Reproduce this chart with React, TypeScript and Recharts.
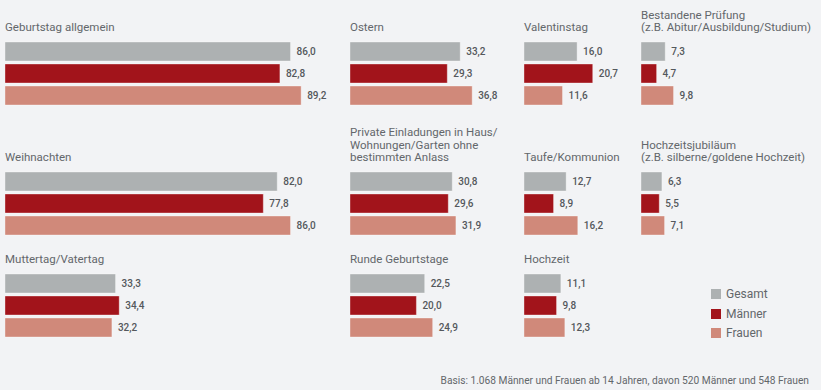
import { BarChart, Bar, Cell, XAxis, YAxis, LabelList } from 'recharts';

// Anlässe (Titelzeilen je Panel)
const categories: string[][] = [
  ['Geburtstag allgemein'],
  ['Ostern'],
  ['Valentinstag'],
  ['Bestandene Prüfung', '(z.B. Abitur/Ausbildung/Studium)'],
  ['Weihnachten'],
  ['Private Einladungen in Haus/', 'Wohnungen/Garten ohne', 'bestimmten Anlass'],
  ['Taufe/Kommunion'],
  ['Hochzeitsjubiläum', '(z.B. silberne/goldene Hochzeit)'],
  ['Muttertag/Vatertag'],
  ['Runde Geburtstage'],
  ['Hochzeit'],
];

const gesamt = [86.0, 33.2, 16.0, 7.3, 82.0, 30.8, 12.7, 6.3, 33.3, 22.5, 11.1];
const maenner = [82.8, 29.3, 20.7, 4.7, 77.8, 29.6, 8.9, 5.5, 34.4, 20.0, 9.8];
const frauen = [89.2, 36.8, 11.6, 9.8, 86.0, 31.9, 16.2, 7.1, 32.2, 24.9, 12.3];

const seriesNames = ['Gesamt', 'Männer', 'Frauen'];
const COLORS = ['#adb1b2', '#a2141b', '#d0897a'];

const footnote = 'Basis: 1.068 Männer und Frauen ab 14 Jahren, davon 520 Männer und 548 Frauen';

// layout
const COL_X = [5, 350, 524, 641];
const ROW_Y = [41, 171, 273];
const COL_W = [330, 170, 115, 170];
const PX_PER_UNIT = 3.32;
const TEXT = '#63676b';
const FONT = 'Roboto, "Liberation Sans", Arial, sans-serif';

const fmt = (v: any) => Number(v).toFixed(1).replace('.', ',');

function Panel({ idx }: { idx: number }) {
  const row = Math.floor(idx / 4);
  const col = idx % 4;
  const x = COL_X[col];
  const y = ROW_Y[row];
  const w = COL_W[col];
  const lines = categories[idx];
  const data = seriesNames.map((name, i) => ({
    name,
    value: [gesamt, maenner, frauen][i][idx],
  }));

  return (
    <>
      <div
        style={{
          position: 'absolute',
          left: x,
          top: y - 20 - (lines.length - 1) * 12.5,
          fontSize: 11.5,
          lineHeight: '12.5px',
          color: TEXT,
          whiteSpace: 'nowrap',
        }}
      >
        {lines.map((l, i) => (
          <div key={i}>{l}</div>
        ))}
      </div>
      <div style={{ position: 'absolute', left: x, top: y - 1.5 }}>
        <BarChart
          width={w}
          height={66}
          layout="vertical"
          data={data}
          margin={{ top: 0, right: 0, bottom: 0, left: 0 }}
          barCategoryGap={0}
        >
          <XAxis type="number" hide domain={[0, w / PX_PER_UNIT]} />
          <YAxis type="category" dataKey="name" hide />
          <Bar dataKey="value" barSize={19} isAnimationActive={false} stroke="#ffffff" strokeOpacity={0.35} strokeWidth={1}>
            {data.map((_, i) => (
              <Cell key={i} fill={COLORS[i]} />
            ))}
            <LabelList
              dataKey="value"
              position="right"
              offset={6}
              formatter={fmt}
              style={{ fill: '#54585c', fontSize: 10, fontWeight: 500, fontFamily: FONT, stroke: 'none' }}
            />
          </Bar>
        </BarChart>
      </div>
    </>
  );
}

export default function App() {
  return (
    <div
      style={{
        position: 'absolute',
        left: 0,
        top: 0,
        width: 821,
        height: 390,
        background: '#f2f3f5',
        fontFamily: FONT,
        overflow: 'hidden',
      }}
    >
      {categories.map((_, i) => (
        <Panel key={i} idx={i} />
      ))}

      <div style={{ position: 'absolute', left: 711, top: 284.5 }}>
        {seriesNames.map((name, i) => (
          <div key={name} style={{ display: 'flex', alignItems: 'center', height: 19.5 }}>
            <span style={{ width: 10, height: 10, background: COLORS[i], display: 'inline-block', marginRight: 5 }} />
            <span style={{ fontSize: 12, color: TEXT }}>{name}</span>
          </div>
        ))}
      </div>

      <div
        style={{
          position: 'absolute',
          right: 12,
          top: 375,
          fontSize: 10.2,
          color: TEXT,
          whiteSpace: 'nowrap',
        }}
      >
        {footnote}
      </div>
    </div>
  );
}
